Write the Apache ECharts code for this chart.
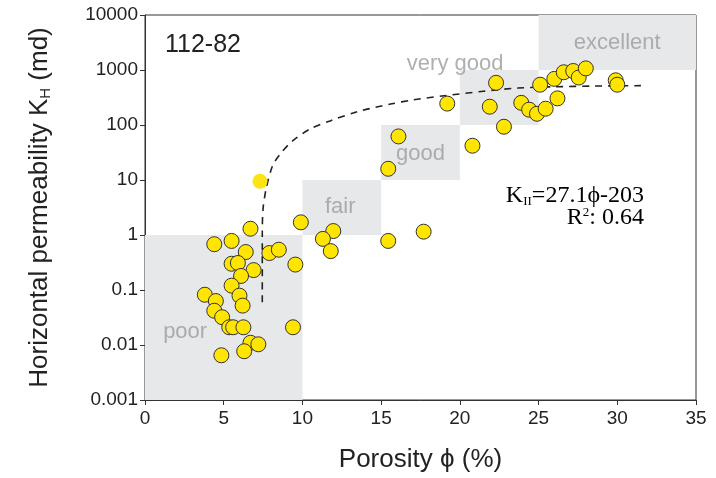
<!DOCTYPE html>
<html>
<head>
<meta charset="utf-8">
<script src="https://cdn.jsdelivr.net/npm/echarts@6/dist/echarts.min.js"></script>
<style>
html,body{margin:0;padding:0;background:#fff;}
#chart{width:716px;height:478px;}
</style>
</head>
<body>
<div id="chart"></div>
<script>
// ---- data ----
var porosity = [3.8, 4.5, 4.4, 5.5, 6.4, 5.5, 5.9, 6.9, 6.1, 5.5, 6.0, 6.2, 4.4, 4.9, 5.35, 5.6, 6.25, 6.7, 7.2, 4.85, 6.3, 6.7, 7.9, 8.5, 9.55, 9.4, 9.9,
  11.96, 11.3, 11.8, 15.45, 17.7, 15.45, 16.1, 19.2, 20.8, 22.3, 21.9, 22.8, 23.9, 24.4, 24.9, 25.45, 25.1, 26.2, 26.0, 26.6, 27.2, 27.55, 28.0, 29.9, 30.0];
var permeability = [0.082, 0.063, 0.68, 0.78, 0.49, 0.30, 0.31, 0.23, 0.18, 0.12, 0.079, 0.052, 0.042, 0.032, 0.021, 0.021, 0.021, 0.011, 0.0103, 0.0065, 0.0077, 1.3, 0.47, 0.54, 0.29, 0.021, 1.7,
  1.18, 0.85, 0.51, 0.78, 1.15, 16, 62, 245, 42, 585, 215, 93, 253, 190, 160, 198, 540, 305, 690, 910, 960, 730, 1070, 650, 540];
var outlierPorosity = [7.3];
var outlierPermeability = [9.5];

var curveX = [7.45, 7.45, 7.5, 7.7, 8.1, 8.6, 9.4, 10.5, 11.8, 13.5, 15.6, 17, 19, 21.5, 23.7, 26, 28.5, 31.5];
var curveY = [0.06, 1, 3, 7, 18, 30, 52, 85, 120, 175, 240, 285, 340, 410, 470, 495, 510, 520];

var regionNames = ['poor', 'fair', 'good', 'very good', 'excellent'];
var regionX0 = [0, 10, 15, 20, 25];
var regionX1 = [10, 15, 20, 25, 35];
var regionY0 = [0.001, 1, 10, 100, 1000];
var regionY1 = [1, 10, 100, 1000, 10000];
var regionLabelX = [2.55, 12.4, 17.5, 19.7, 30.0];
var regionLabelY = [0.017, 3.3, 30, 1290, 3100];

var xTicks = [0, 5, 10, 15, 20, 25, 30, 35];
var yTickLabels = ['0.001', '0.01', '0.1', '1', '10', '100', '1000', '10000'];

// ---- build options ----
var pts = porosity.map(function (x, i) { return [x, permeability[i]]; });
var outPts = outlierPorosity.map(function (x, i) { return [x, outlierPermeability[i]]; });
var curve = curveX.map(function (x, i) { return [x, curveY[i]]; });
var areas = regionNames.map(function (n, i) {
  return [{ coord: [regionX0[i], regionY0[i]] }, { coord: [regionX1[i], regionY1[i]] }];
});
var regionLabels = regionNames.map(function (n, i) {
  return { name: n, value: [regionLabelX[i], regionLabelY[i]] };
});

var chart = echarts.init(document.getElementById('chart'), null, { renderer: 'canvas' });
var font = 'Liberation Sans, Arial, sans-serif';
var serif = 'Liberation Serif, Times New Roman, serif';
chart.setOption({
  animation: false,
  backgroundColor: '#fff',
  grid: { left: 145, right: 20, top: 15, bottom: 74, show: true, borderColor: '#333', borderWidth: 1, backgroundColor: 'transparent' },
  xAxis: {
    type: 'value', min: 0, max: 35, interval: 5,
    name: 'Porosity ϕ (%)', nameLocation: 'middle', nameGap: 47,
    nameTextStyle: { fontFamily: font, fontSize: 26, color: '#222' },
    axisLine: { show: true, lineStyle: { color: '#333', width: 1 } },
    axisTick: { show: true, length: 5, lineStyle: { color: '#333' } },
    axisLabel: { fontFamily: font, fontSize: 19, color: '#222', margin: 9,
      formatter: function (v) { return xTicks.indexOf(v) >= 0 ? String(v) : ''; } },
    splitLine: { show: false }
  },
  yAxis: {
    type: 'log', logBase: 10, min: 0.001, max: 10000,
    name: '{a|Horizontal permeability K}{s|H}{a| (md)}', nameLocation: 'middle', nameGap: 92,
    nameTextStyle: { fontFamily: font, fontSize: 26, color: '#222',
      rich: { a: { fontFamily: font, fontSize: 26, color: '#222' },
              s: { fontFamily: font, fontSize: 15, color: '#222', verticalAlign: 'bottom', padding: [11, 0, 0, 0] } } },
    axisLine: { show: true, lineStyle: { color: '#333', width: 1 } },
    axisTick: { show: true, length: 5, lineStyle: { color: '#333' } },
    minorTick: { show: false },
    axisLabel: { fontFamily: font, fontSize: 19, color: '#222', margin: 7,
      formatter: function (v) {
        var e = Math.round(Math.log(v) / Math.LN10);
        return yTickLabels[e + 3] || '';
      } },
    splitLine: { show: false }
  },
  series: [
    {
      type: 'scatter', data: [], silent: true,
      markArea: { silent: true, itemStyle: { color: '#e7e8e9' }, data: areas }, z: 1
    },
    {
      type: 'line', data: curve, smooth: 0.3, symbol: 'none', silent: true, z: 3,
      lineStyle: { color: '#222', width: 1.6, type: [7, 6] }
    },
    {
      type: 'scatter', data: pts, symbol: 'circle', symbolSize: 15, z: 5,
      itemStyle: { color: '#ffe500', borderColor: '#333', borderWidth: 1, opacity: 1 }
    },
    {
      type: 'scatter', data: outPts, symbol: 'circle', symbolSize: 15, z: 5,
      itemStyle: { color: '#fbe316', borderWidth: 0, opacity: 1 }
    },
    {
      type: 'scatter', data: regionLabels, symbolSize: 0, silent: true, z: 4,
      label: { show: true, position: 'inside', formatter: '{b}', fontFamily: font, fontSize: 22, color: '#9b9b9b' }
    }
  ],
  graphic: [
    { type: 'text', left: 165, top: 33, z: 10,
      style: { text: '112-82', font: '25px ' + font, fill: '#222' } },
    { type: 'text', right: 72, top: 184, z: 10,
      style: { text: '{a|K}{s|II}{a|=27.1ϕ-203}', align: 'right',
        rich: { a: { fontFamily: serif, fontSize: 24, color: '#222' },
                s: { fontFamily: serif, fontSize: 13, color: '#222', verticalAlign: 'bottom', padding: [11, 0, 0, 0] } } } },
    { type: 'text', right: 72, top: 206, z: 10,
      style: { text: '{a|R}{s|2}{a|: 0.64}', align: 'right',
        rich: { a: { fontFamily: serif, fontSize: 24, color: '#222' },
                s: { fontFamily: serif, fontSize: 13, color: '#222', verticalAlign: 'top', padding: [0, 0, 11, 0] } } } }
  ]
});
</script>
</body>
</html>
